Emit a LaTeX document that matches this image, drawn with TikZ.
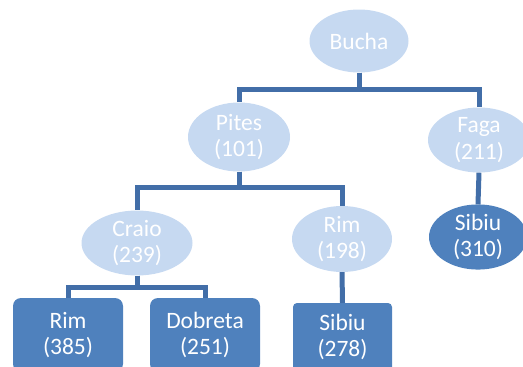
\documentclass[tikz,border=0pt]{standalone}
\usepackage{fontspec}
\setmainfont{Carlito}
\usetikzlibrary{shapes.geometric}
\definecolor{palecity}{RGB}{198,217,241}
\definecolor{deepcity}{RGB}{79,129,189}
\definecolor{linkblue}{RGB}{66,110,168}

\begin{document}
\begin{tikzpicture}[x=1pt,y=-1pt,
    every node/.style={inner sep=0pt,align=center,text=white,
      font=\fontsize{23.5}{26.5}\selectfont},
    open/.style={ellipse,fill=palecity},
    goal/.style={ellipse,fill=deepcity},
    leaf/.style={rectangle,fill=deepcity,rounded corners=#1},
    link/.style={draw=linkblue,line width=5pt}]
    \clip(0,0)rectangle(523,367);
    % tree of expanded cities
    \node[open,minimum width=99,minimum height=63](bucha)at(359,41){Bucha};
    \node[open,minimum width=102,minimum height=69](pites)at(239,137){Pites\\(101)};
    \node[open,minimum width=102,minimum height=65](faga)at(479,140){Faga\\(211)};
    \node[open,minimum width=111,minimum height=64](craio)at(137,243){Craio\\(239)};
    \node[open,minimum width=100,minimum height=66](rimv)at(342,239){Rim\\(198)};
    \node[goal,minimum width=98,minimum height=62](sibiuf)at(478,237){Sibiu\\(310)};
    \node[leaf=8pt,minimum width=110,minimum height=74](rimc)at(68,335){Rim\\(385)};
    \node[leaf=8pt,minimum width=110,minimum height=74](dobreta)at(205,335){Dobreta\\(251)};
    \node[leaf=4pt,minimum width=99,minimum height=68](sibiur)at(342.5,337){Sibiu\\(278)};
    \foreach \a/\b/\d in {bucha/pites/17,bucha/faga/17,pites/craio/16,
      pites/rimv/16,craio/rimc/12,craio/dobreta/12}
      {\draw[link](\a.south)--++(0,\d)-|(\b.north);}
    \draw[link](faga.south)--(sibiuf.north);
    \draw[link](rimv.south)--(sibiur.north);
  \end{tikzpicture}
\end{document}
